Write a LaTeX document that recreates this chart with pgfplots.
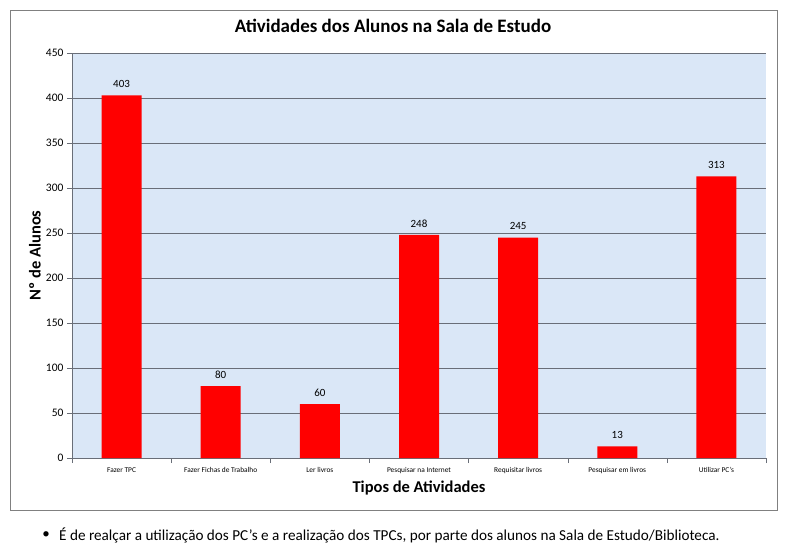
\documentclass[border=0pt]{standalone}
\usepackage{pgfplots}
\pgfplotsset{compat=1.18}
\usepackage{fontspec}
\setmainfont{Carlito}
\definecolor{plotbg}{RGB}{218,231,247}
\definecolor{gridc}{RGB}{105,110,120}
\definecolor{framec}{RGB}{128,128,128}

\begin{document}
\begin{tikzpicture}
\path[use as bounding box] (0pt,0pt) rectangle (788pt,-552pt);
\draw[framec, line width=1pt] (10pt,-10pt) rectangle (777pt,-510pt);
\begin{axis}[
    at={(72pt,-458pt)}, anchor=south west,
    scale only axis, width=694pt, height=405pt,
    xmin=-0.5, xmax=6.5,
    ymin=0, ymax=450,
    ytick={0,50,...,450},
    xtick={0,...,6},
    xticklabels={Fazer TPC, Fazer Fichas de Trabalho, Ler livros, Pesquisar na Internet, Requisitar livros, Pesquisar em livros, Utilizar PC’s},
    xtick style={/pgfplots/major tick length=0pt},
    extra x ticks={-0.5,0.5,...,6.5},
    extra x tick labels={},
    extra x tick style={xtick style={/pgfplots/major tick length=5pt, draw=gridc}},
    tick align=outside,
    major tick length=5pt,
    tick style={gridc},
    axis x line*=bottom, axis y line*=left,
    axis line style={gridc},
    ymajorgrids,
    grid style={gridc, line width=0.6pt},
    axis background/.style={fill=plotbg},
    /pgf/number format/assume math mode=true,
    yticklabel style={font=\fontsize{11.5}{13}\selectfont},
    xticklabel style={font=\fontsize{7.4}{8.5}\selectfont, yshift=-1pt},
    title={Atividades dos Alunos na Sala de Estudo},
    title style={at={(axis description cs:0.4625,1.052)}, anchor=center, font=\bfseries\fontsize{19}{22}\selectfont},
    xlabel={Tipos de Atividades},
    xlabel style={at={(axis description cs:0.5,-0.074)}, anchor=center, font=\bfseries\fontsize{16.5}{19}\selectfont},
    ylabel={Nº de Alunos},
    ylabel style={at={(axis description cs:-0.0533,0.5)}, anchor=center, font=\bfseries\fontsize{16.5}{19}\selectfont},
]
\addplot[ybar, bar width=40pt, fill=red, draw=none,
    nodes near coords,
    nodes near coords style={font=\fontsize{11}{13}\selectfont, text=black, yshift=4pt}]
    coordinates {(0,403) (1,80) (2,60) (3,248) (4,245) (5,13) (6,313)};
\end{axis}
\node[font=\fontsize{15}{18}\selectfont] at (46pt,-535pt) {•};
\node[anchor=west, font=\fontsize{15.2}{18}\selectfont, inner sep=0pt] at (59pt,-535pt)
    {É de realçar a utilização dos PC’s e a realização dos TPCs, por parte dos alunos na Sala de Estudo/Biblioteca.};
\end{tikzpicture}
\end{document}
